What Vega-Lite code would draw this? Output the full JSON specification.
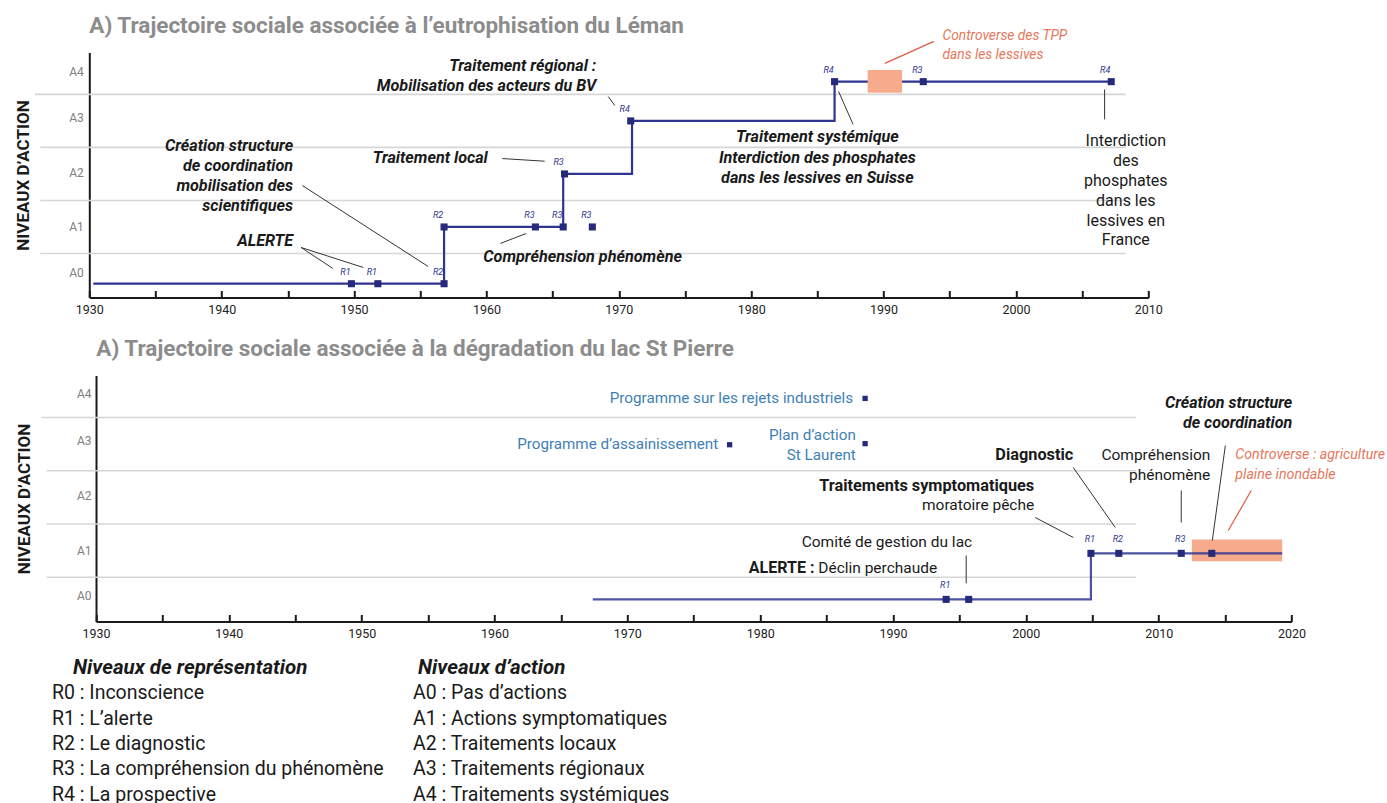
{
  "$schema": "https://vega.github.io/schema/vega-lite/v6.json",
  "background": "white",
  "padding": {"left": 14.3, "top": 14.5, "right": 5, "bottom": 0},
  "spacing": 17,
  "config": {"view": {"stroke": null}, "font": "Roboto"},
  "datasets": {
    "p1_grille": [
      {"annee": 1926.3, "annee2": 2008.3, "niveau": 0.5},
      {"annee": 1926.3, "annee2": 2008.3, "niveau": 1.5},
      {"annee": 1926.3, "annee2": 2008.3, "niveau": 2.5},
      {"annee": 1925.9, "annee2": 2008.3, "niveau": 3.5}
    ],
    "p1_trajet": [
      {"annee": 1930.3, "niveau": -0.07},
      {"annee": 1956.8, "niveau": 1.0},
      {"annee": 1965.8, "niveau": 2.0},
      {"annee": 1971.0, "niveau": 3.0},
      {"annee": 1986.3, "niveau": 3.74},
      {"annee": 2007.2, "niveau": 3.74}
    ],
    "p1_reperes": [
      {"annee": 1949.8, "niveau": -0.07, "R": "R1"},
      {"annee": 1951.8, "niveau": -0.07, "R": "R1"},
      {"annee": 1956.8, "niveau": -0.07, "R": "R2"},
      {"annee": 1956.8, "niveau": 1.0, "R": "R2"},
      {"annee": 1963.7, "niveau": 1.0, "R": "R3"},
      {"annee": 1965.8, "niveau": 1.0, "R": "R3"},
      {"annee": 1968.0, "niveau": 1.0, "R": "R3"},
      {"annee": 1965.9, "niveau": 2.0, "R": "R3"},
      {"annee": 1970.9, "niveau": 3.0, "R": "R4"},
      {"annee": 1986.3, "niveau": 3.74, "R": "R4"},
      {"annee": 1993.0, "niveau": 3.74, "R": "R3"},
      {"annee": 2007.2, "niveau": 3.74, "R": "R4"}
    ],
    "p1_controverse": [{"annee": 1988.8, "annee2": 1991.4, "niveau": 3.53, "niveau2": 3.96}],
    "p1_liens": [
      {"annee": 1969.2, "niveau": 3.46, "annee2": 1969.7, "niveau2": 3.29},
      {"annee": 1961.2, "niveau": 2.29, "annee2": 1964.4, "niveau2": 2.24},
      {"annee": 1946.1, "niveau": 1.78, "annee2": 1955.6, "niveau2": 0.255},
      {"annee": 1946.0, "niveau": 0.613, "annee2": 1948.4, "niveau2": 0.217},
      {"annee": 1946.0, "niveau": 0.613, "annee2": 1950.7, "niveau2": 0.236},
      {"annee": 1961.05, "niveau": 0.689, "annee2": 1963.0, "niveau2": 0.877},
      {"annee": 1986.6, "niveau": 3.557, "annee2": 1987.7, "niveau2": 2.934},
      {"annee": 2006.7, "niveau": 3.594, "annee2": 2006.7, "niveau2": 3.028}
    ],
    "p1_lien_rouge": [{"annee": 1993.8, "niveau": 4.5, "annee2": 1990.1, "niveau2": 4.085}],
    "p1_notes_droite": [
      {"texte": "Traitement régional :\nMobilisation des acteurs du BV", "annee": 1968.3, "niveau": 4.03},
      {"texte": "Traitement local", "annee": 1960.1, "niveau": 2.31},
      {"texte": "Création structure\nde coordination\nmobilisation des\nscientifiques", "annee": 1945.4, "niveau": 2.52},
      {"texte": "ALERTE", "annee": 1945.4, "niveau": 0.73}
    ],
    "p1_notes_gauche": [{"texte": "Compréhension phénomène", "annee": 1959.76, "niveau": 0.425}],
    "p1_notes_centre": [{"texte": "Traitement systémique\nInterdiction des phosphates\ndans les lessives en Suisse", "annee": 1985.0, "niveau": 2.69}],
    "p1_note_rouge": [{"texte": "Controverse des TPP\ndans les lessives", "annee": 1994.45, "niveau": 4.61}],
    "p1_note_normale": [{"texte": "Interdiction\ndes\nphosphates\ndans les\nlessives en\nFrance", "annee": 2008.3, "niveau": 2.613}],
    "p2_grille": [
      {"annee": 1926.3, "annee2": 2008.3, "niveau": 0.5},
      {"annee": 1926.3, "annee2": 2008.3, "niveau": 1.5},
      {"annee": 1926.3, "annee2": 2008.3, "niveau": 2.5},
      {"annee": 1925.9, "annee2": 2008.3, "niveau": 3.5}
    ],
    "p2_trajet": [
      {"annee": 1967.4, "niveau": 0.085},
      {"annee": 2004.9, "niveau": 0.95},
      {"annee": 2019.3, "niveau": 0.95}
    ],
    "p2_reperes": [
      {"annee": 1994.0, "niveau": 0.085, "R": "R1"},
      {"annee": 1995.7, "niveau": 0.085, "R": ""},
      {"annee": 2004.9, "niveau": 0.95, "R": "R1"},
      {"annee": 2007.0, "niveau": 0.95, "R": "R2"},
      {"annee": 2011.7, "niveau": 0.95, "R": "R3"},
      {"annee": 2014.0, "niveau": 0.95, "R": ""}
    ],
    "p2_programmes": [
      {"annee": 1987.9, "niveau": 3.86},
      {"annee": 1977.7, "niveau": 2.99},
      {"annee": 1987.9, "niveau": 3.01}
    ],
    "p2_programmes_textes": [
      {"texte": "Programme sur les rejets industriels", "annee": 1987.0, "niveau": 3.875},
      {"texte": "Programme d’assainissement", "annee": 1976.84, "niveau": 3.012},
      {"texte": "Plan d’action\nSt Laurent", "annee": 1987.2, "niveau": 3.181}
    ],
    "p2_controverse": [{"annee": 2012.5, "annee2": 2019.3, "niveau": 0.80, "niveau2": 1.21}],
    "p2_liens": [
      {"annee": 2000.7, "niveau": 1.624, "annee2": 2003.57, "niveau2": 1.249},
      {"annee": 2003.57, "niveau": 2.562, "annee2": 2006.73, "niveau2": 1.436},
      {"annee": 2011.7, "niveau": 2.13, "annee2": 2011.7, "niveau2": 1.53},
      {"annee": 2015.02, "niveau": 2.975, "annee2": 2014.04, "niveau2": 1.192},
      {"annee": 1995.51, "niveau": 0.911, "annee2": 1995.51, "niveau2": 0.386}
    ],
    "p2_lien_rouge": [{"annee": 2016.97, "niveau": 2.13, "annee2": 2015.24, "niveau2": 1.38}],
    "p2_gras_droite": [
      {"texte": "Traitements symptomatiques", "annee": 2000.63, "niveau": 2.224},
      {"texte": "Diagnostic", "annee": 2003.57, "niveau": 2.806}
    ],
    "p2_normal_droite": [
      {"texte": "moratoire pêche", "annee": 2000.63, "niveau": 1.849},
      {"texte": "Comité de gestion du lac", "annee": 1995.96, "niveau": 1.155},
      {"texte": "Compréhension\nphénomène", "annee": 2013.89, "niveau": 2.806},
      {"texte": "Déclin perchaude", "annee": 1993.33, "niveau": 0.667}
    ],
    "p2_gras_gauche": [{"texte": "ALERTE :", "annee": 1979.15, "niveau": 0.667}],
    "p2_grasital_droite": [{"texte": "Création structure\nde coordination", "annee": 2020.06, "niveau": 3.781}],
    "p2_note_rouge": [{"texte": "Controverse : agriculture\nplaine inondable", "annee": 2015.77, "niveau": 2.806}],
    "legende_titres": [
      {"groupe": "R", "ordre": 0, "texte": "Niveaux de représentation"},
      {"groupe": "A", "ordre": 0, "texte": "Niveaux d’action"}
    ],
    "legende": [
      {"groupe": "R", "ordre": 1, "texte": "R0 : Inconscience"},
      {"groupe": "R", "ordre": 2, "texte": "R1 : L’alerte"},
      {"groupe": "R", "ordre": 3, "texte": "R2 : Le diagnostic"},
      {"groupe": "R", "ordre": 4, "texte": "R3 : La compréhension du phénomène"},
      {"groupe": "R", "ordre": 5, "texte": "R4 : La prospective"},
      {"groupe": "A", "ordre": 1, "texte": "A0 : Pas d’actions"},
      {"groupe": "A", "ordre": 2, "texte": "A1 : Actions symptomatiques"},
      {"groupe": "A", "ordre": 3, "texte": "A2 : Traitements locaux"},
      {"groupe": "A", "ordre": 4, "texte": "A3 : Traitements régionaux"},
      {"groupe": "A", "ordre": 5, "texte": "A4 : Traitements systémiques"}
    ]
  },
  "vconcat": [
    {
      "spacing": 21,
      "vconcat": [
        {
          "width": 1059,
          "height": 245,
          "title": {"text": "A) Trajectoire sociale associée à l’eutrophisation du Léman", "anchor": "start", "frame": "group", "baseline": "bottom", "offset": -32, "fontSize": 22.5, "font": "Roboto", "fontWeight": "bold", "color": "#8c8c8c"},
          "encoding": {
            "x": {"field": "annee", "type": "quantitative",
                  "scale": {"domain": [1930, 2010], "nice": false, "zero": false},
                  "axis": {"values": [1930, 1935, 1940, 1945, 1950, 1955, 1960, 1965, 1970, 1975, 1980, 1985, 1990, 1995, 2000, 2005, 2010],
                           "format": "d", "labelExpr": "datum.value % 10 === 0 ? datum.label : ''", "title": null, "grid": false,
                           "domainColor": "#1a1a1a", "domainWidth": 2, "tickColor": "#1a1a1a", "tickWidth": 2, "tickSize": -7,
                           "labelPadding": 13, "labelFontSize": 12.5, "labelFont": "Roboto", "labelColor": "#222222",
                           "labelFlush": false, "labelOverlap": false}},
            "y": {"field": "niveau", "type": "quantitative",
                  "scale": {"domain": [-0.33, 4.29], "nice": false, "zero": false},
                  "axis": {"values": [0.14, 1, 2.03, 3.07, 3.93], "labelExpr": "'A' + round(datum.value)",
                           "title": "NIVEAUX D’ACTION", "titleFont": "Roboto", "titleFontSize": 17, "titleFontWeight": "bold", "titleColor": "#1a1a1a", "titlePadding": 36,
                           "ticks": false, "grid": false, "domainColor": "#1a1a1a", "domainWidth": 2,
                           "labelFontSize": 12, "labelColor": "#808080", "labelPadding": 6, "labelFont": "Roboto"}}
          },
          "layer": [
            {"data": {"name": "p1_grille"}, "mark": {"type": "rule", "color": "#d6d6d6", "strokeWidth": 1.6},
             "encoding": {"x2": {"field": "annee2"}}},
            {"data": {"name": "p1_trajet"}, "mark": {"type": "line", "interpolate": "step-after", "color": "#2e3490", "strokeWidth": 2.2},
             "encoding": {}},
            {"data": {"name": "p1_controverse"}, "mark": {"type": "rect", "color": "#f6ab8c", "opacity": 1},
             "encoding": {"x2": {"field": "annee2"}, "y2": {"field": "niveau2"}}},
            {"data": {"name": "p1_reperes"}, "mark": {"type": "square", "size": 50, "color": "#262a7d", "opacity": 1}},
            {"data": {"name": "p1_reperes"}, "mark": {"type": "text", "dx": -6, "dy": -12, "fontSize": 9, "fontStyle": "italic", "color": "#2e3490", "font": "Roboto"},
             "encoding": {"text": {"field": "R"}}},
            {"data": {"name": "p1_liens"}, "mark": {"type": "rule", "color": "#333333", "strokeWidth": 1},
             "encoding": {"x2": {"field": "annee2"}, "y2": {"field": "niveau2"}}},
            {"data": {"name": "p1_lien_rouge"}, "mark": {"type": "rule", "color": "#e05a44", "strokeWidth": 1.2},
             "encoding": {"x2": {"field": "annee2"}, "y2": {"field": "niveau2"}}},
            {"data": {"name": "p1_notes_droite"}, "mark": {"type": "text", "align": "right", "baseline": "middle", "fontSize": 16.2, "fontWeight": "bold", "fontStyle": "italic", "lineHeight": 19.8, "lineBreak": "\n", "color": "#1a1a1a", "font": "Roboto"},
             "encoding": {"text": {"field": "texte"}}},
            {"data": {"name": "p1_notes_gauche"}, "mark": {"type": "text", "align": "left", "baseline": "middle", "fontSize": 16.2, "fontWeight": "bold", "fontStyle": "italic", "lineHeight": 19.8, "lineBreak": "\n", "color": "#1a1a1a", "font": "Roboto"},
             "encoding": {"text": {"field": "texte"}}},
            {"data": {"name": "p1_notes_centre"}, "mark": {"type": "text", "align": "center", "baseline": "middle", "fontSize": 16.2, "fontWeight": "bold", "fontStyle": "italic", "lineHeight": 20.4, "lineBreak": "\n", "color": "#1a1a1a", "font": "Roboto"},
             "encoding": {"text": {"field": "texte"}}},
            {"data": {"name": "p1_note_rouge"}, "mark": {"type": "text", "align": "left", "baseline": "middle", "fontSize": 13.8, "fontStyle": "italic", "lineHeight": 19.5, "lineBreak": "\n", "color": "#e5775c", "font": "Roboto"},
             "encoding": {"text": {"field": "texte"}}},
            {"data": {"name": "p1_note_normale"}, "mark": {"type": "text", "align": "center", "baseline": "middle", "fontSize": 16, "lineHeight": 19.8, "lineBreak": "\n", "color": "#1a1a1a", "font": "Roboto"},
             "encoding": {"text": {"field": "texte"}}}
          ]
        },
        {
          "width": 1202,
          "height": 246,
          "title": {"text": "A) Trajectoire sociale associée à la dégradation du lac St Pierre", "anchor": "start", "frame": "group", "baseline": "bottom", "offset": -8, "dx": 7, "fontSize": 22.5, "font": "Roboto", "fontWeight": "bold", "color": "#8c8c8c"},
          "encoding": {
            "x": {"field": "annee", "type": "quantitative",
                  "scale": {"domain": [1930, 2020], "range": [6.7, 1202.2], "nice": false, "zero": false},
                  "axis": {"values": [1930, 1935, 1940, 1945, 1950, 1955, 1960, 1965, 1970, 1975, 1980, 1985, 1990, 1995, 2000, 2005, 2010, 2015, 2020],
                           "format": "d", "labelExpr": "datum.value % 10 === 0 ? datum.label : ''", "title": null, "grid": false,
                           "domainColor": "#1a1a1a", "domainWidth": 2, "tickColor": "#1a1a1a", "tickWidth": 2, "tickSize": -7,
                           "labelPadding": 13, "labelFontSize": 12.5, "labelFont": "Roboto", "labelColor": "#222222",
                           "labelFlush": false, "labelOverlap": false}},
            "y": {"field": "niveau", "type": "quantitative",
                  "scale": {"domain": [-0.33, 4.29], "nice": false, "zero": false},
                  "axis": {"values": [0.16, 1.01, 2.04, 3.07, 3.95], "labelExpr": "'A' + round(datum.value)", "offset": -6.7,
                           "title": "NIVEAUX D’ACTION", "titleFont": "Roboto", "titleFontSize": 17, "titleFontWeight": "bold", "titleColor": "#1a1a1a", "titlePadding": 42.5,
                           "ticks": false, "grid": false, "domainColor": "#1a1a1a", "domainWidth": 2,
                           "labelFontSize": 12, "labelColor": "#808080", "labelPadding": 5, "labelFont": "Roboto"}}
          },
          "layer": [
            {"data": {"name": "p2_grille"}, "mark": {"type": "rule", "color": "#d6d6d6", "strokeWidth": 1.6},
             "encoding": {"x2": {"field": "annee2"}}},
            {"data": {"name": "p2_controverse"}, "mark": {"type": "rect", "color": "#f6ab8c", "opacity": 1},
             "encoding": {"x2": {"field": "annee2"}, "y2": {"field": "niveau2"}}},
            {"data": {"name": "p2_trajet"}, "mark": {"type": "line", "interpolate": "step-after", "color": "#2e3490", "strokeWidth": 2.2, "opacity": 0.85},
             "encoding": {}},
            {"data": {"name": "p2_reperes"}, "mark": {"type": "square", "size": 50, "color": "#262a7d", "opacity": 1}},
            {"data": {"name": "p2_reperes"}, "mark": {"type": "text", "dx": -1, "dy": -14, "fontSize": 9, "fontStyle": "italic", "color": "#2e3490", "font": "Roboto"},
             "encoding": {"text": {"field": "R"}}},
            {"data": {"name": "p2_programmes"}, "mark": {"type": "square", "size": 28, "color": "#262a7d", "opacity": 1}},
            {"data": {"name": "p2_programmes_textes"}, "mark": {"type": "text", "align": "right", "baseline": "middle", "fontSize": 15.2, "lineHeight": 20, "lineBreak": "\n", "color": "#3f7fb5", "font": "Roboto"},
             "encoding": {"text": {"field": "texte"}}},
            {"data": {"name": "p2_liens"}, "mark": {"type": "rule", "color": "#333333", "strokeWidth": 1},
             "encoding": {"x2": {"field": "annee2"}, "y2": {"field": "niveau2"}}},
            {"data": {"name": "p2_lien_rouge"}, "mark": {"type": "rule", "color": "#e05a44", "strokeWidth": 1.2},
             "encoding": {"x2": {"field": "annee2"}, "y2": {"field": "niveau2"}}},
            {"data": {"name": "p2_gras_droite"}, "mark": {"type": "text", "align": "right", "baseline": "middle", "fontSize": 16.3, "fontWeight": "bold", "color": "#1a1a1a", "font": "Roboto"},
             "encoding": {"text": {"field": "texte"}}},
            {"data": {"name": "p2_normal_droite"}, "mark": {"type": "text", "align": "right", "baseline": "middle", "fontSize": 15.5, "lineHeight": 20, "lineBreak": "\n", "color": "#1a1a1a", "font": "Roboto"},
             "encoding": {"text": {"field": "texte"}}},
            {"data": {"name": "p2_gras_gauche"}, "mark": {"type": "text", "align": "left", "baseline": "middle", "fontSize": 16, "fontWeight": "bold", "color": "#1a1a1a", "font": "Roboto"},
             "encoding": {"text": {"field": "texte"}}},
            {"data": {"name": "p2_grasital_droite"}, "mark": {"type": "text", "align": "right", "baseline": "middle", "fontSize": 16.1, "fontWeight": "bold", "fontStyle": "italic", "lineHeight": 20, "lineBreak": "\n", "color": "#1a1a1a", "font": "Roboto"},
             "encoding": {"text": {"field": "texte"}}},
            {"data": {"name": "p2_note_rouge"}, "mark": {"type": "text", "align": "left", "baseline": "middle", "fontSize": 14.2, "fontStyle": "italic", "lineHeight": 20, "lineBreak": "\n", "color": "#e5775c", "font": "Roboto"},
             "encoding": {"text": {"field": "texte"}}}
          ]
        }
      ]
    },
    {
      "width": 436,
      "height": 133.5,
      "encoding": {
        "x": {"field": "groupe", "type": "nominal", "scale": {"type": "point", "domain": ["R", "A"], "range": [-37.3, 323.7], "padding": 0}, "axis": null},
        "y": {"field": "ordre", "type": "ordinal", "scale": {"type": "point", "domain": [0, 1, 2, 3, 4, 5], "padding": 0.138}, "axis": null}
      },
      "layer": [
        {"data": {"name": "legende_titres"}, "transform": [{"filter": "datum.groupe === 'R'"}],
         "mark": {"type": "text", "align": "left", "baseline": "middle", "dx": 21, "fontSize": 20.5, "fontWeight": "bold", "fontStyle": "italic", "color": "#1a1a1a", "font": "Roboto"},
         "encoding": {"text": {"field": "texte"}}},
        {"data": {"name": "legende_titres"}, "transform": [{"filter": "datum.groupe === 'A'"}],
         "mark": {"type": "text", "align": "left", "baseline": "middle", "dx": 5, "fontSize": 20.5, "fontWeight": "bold", "fontStyle": "italic", "color": "#1a1a1a", "font": "Roboto"},
         "encoding": {"text": {"field": "texte"}}},
        {"data": {"name": "legende"},
         "mark": {"type": "text", "align": "left", "baseline": "middle", "fontSize": 19.5, "color": "#1a1a1a", "font": "Roboto"},
         "encoding": {"text": {"field": "texte"}}}
      ]
    }
  ]
}
